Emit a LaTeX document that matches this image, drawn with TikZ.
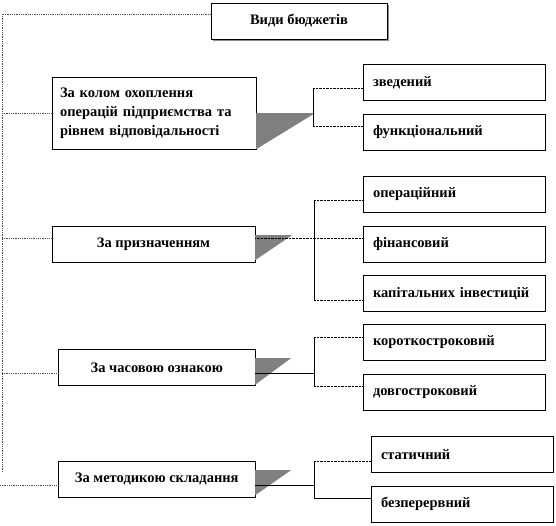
\documentclass[tikz,border=0pt]{standalone}
\usepackage{fontspec}
\setmainfont{Liberation Serif}
\usetikzlibrary{positioning,calc,shadows}

\begin{document}
\begin{tikzpicture}[
  x=1pt, y=-1pt,
  font=\fontsize{14.5}{19}\selectfont\bfseries,
  root/.style={rectangle, draw=black, fill=white, minimum width=176pt, minimum height=36pt,
               drop shadow={shadow xshift=2pt, shadow yshift=-2pt, fill=black!45, opacity=1}},
  group/.style={rectangle, draw=black, fill=white, minimum height=36pt, inner sep=3pt},
  kind/.style={rectangle, draw=black, fill=white, minimum width=182pt, minimum height=36pt,
               text width=162pt, inner xsep=10pt, align=left},
  spine/.style={densely dotted, line width=0.8pt, draw=black!70},
  link/.style={densely dotted, thin},
  bar/.style={thin},
  wedge/.style={fill=black!50},
]
\useasboundingbox (0,0) rectangle (556,525);

\node[root] (root) at (299,21) {Види бюджетів};

\node[group, minimum width=204pt, minimum height=72pt, text width=188pt, align=left] (scope) at (154,113)
  {За колом охоплення\\операцій підприємства та\\рівнем відповідальності};
\node[group, minimum width=203pt]   (purpose) at (153.5,244)  {За призначенням};
\node[group, minimum width=196.5pt] (term)    at (156.75,367.5) {За часовою ознакою};
\node[group, minimum width=196.5pt] (method)  at (156.75,479) {За методикою складання};

\node[kind] (summary) at (454,82.5)  {зведений};
\node[kind] (func)    at (454,132)   {функціональний};
\node[kind] (oper)    at (454,194)   {операційний};
\node[kind] (fin)     at (454,244)   {фінансовий};
\node[kind] (capital) at (454,293.5) {капітальних інвестицій};
\node[kind] (short)   at (454,342.5) {короткостроковий};
\node[kind] (long)    at (454,392)   {довгостроковий};
\node[kind] (static)  at (462,454.5) {статичний};
\node[kind] (cont)    at (462,504)   {безперервний};

% wedges behind the branch lines
\fill[wedge] (scope.east) -- ++(59,0) -- (scope.south east) -- cycle;
\fill[wedge] ([yshift=9pt]purpose.east) -- ++(37,0) -- ([yshift=2pt]purpose.south east) -- cycle;
\fill[wedge] ([yshift=9.5pt]term.east) -- ++(36,0) -- ([yshift=1pt]term.south east) -- cycle;
\fill[wedge] ([yshift=9pt]method.east) -- ++(36,0) -- ([yshift=2pt]method.south east) -- cycle;

% main spine
\coordinate (top)  at (2,14);
\coordinate (foot) at (2,472);
\coordinate (edge) at (0,485);
\draw[spine] ([yshift=7pt]root.west) -- (top) -- (foot);

\coordinate (p2) at ([yshift=6pt]purpose.west);
\coordinate (p3) at ([yshift=-5.5pt]term.west);
\coordinate (p4) at ([yshift=-6pt]method.west);
\draw[spine] (top |- scope.west) -- (scope.west);
\draw[spine] (p2 -| top) -- (p2);
\draw[spine] (p3 -| top) -- (p3);
\draw[spine] (edge) -- (p4);

% forks
\coordinate (f1a) at (313,88);  \coordinate (f1b) at (313,126);
\coordinate (f2a) at (314,200); \coordinate (f2b) at (314,300);
\coordinate (f3a) at (314,337); \coordinate (f3b) at (314,386);
\coordinate (f4a) at (314,461); \coordinate (f4b) at (314,498);

\draw[bar] (f1a) -- (f1b);
\draw[link] (f1a) -- (f1a -| summary.west);
\draw[link] (f1b) -- (f1b -| func.west);

\draw[bar] (f2a) -- (f2b);
\draw[link] (f2a) -- (f2a -| oper.west);
\draw[link] (p2 -| purpose.east) -- (p2 -| fin.west);
\draw[link] (f2b) -- (f2b -| capital.west);

\draw[bar] (f3a) -- (f3b);
\draw[bar] (p3 -| term.east) -- (p3 -| f3a);
\draw[link] (f3a) -- (f3a -| short.west);
\draw[link] (f3b) -- (f3b -| long.west);

\draw[bar] (f4a) -- (f4b);
\draw[bar] (p4 -| method.east) -- (p4 -| f4a);
\draw[link] (f4a) -- (f4a -| static.west);
\draw[bar] (f4b) -- (f4b -| cont.west);

\end{tikzpicture}
\end{document}
